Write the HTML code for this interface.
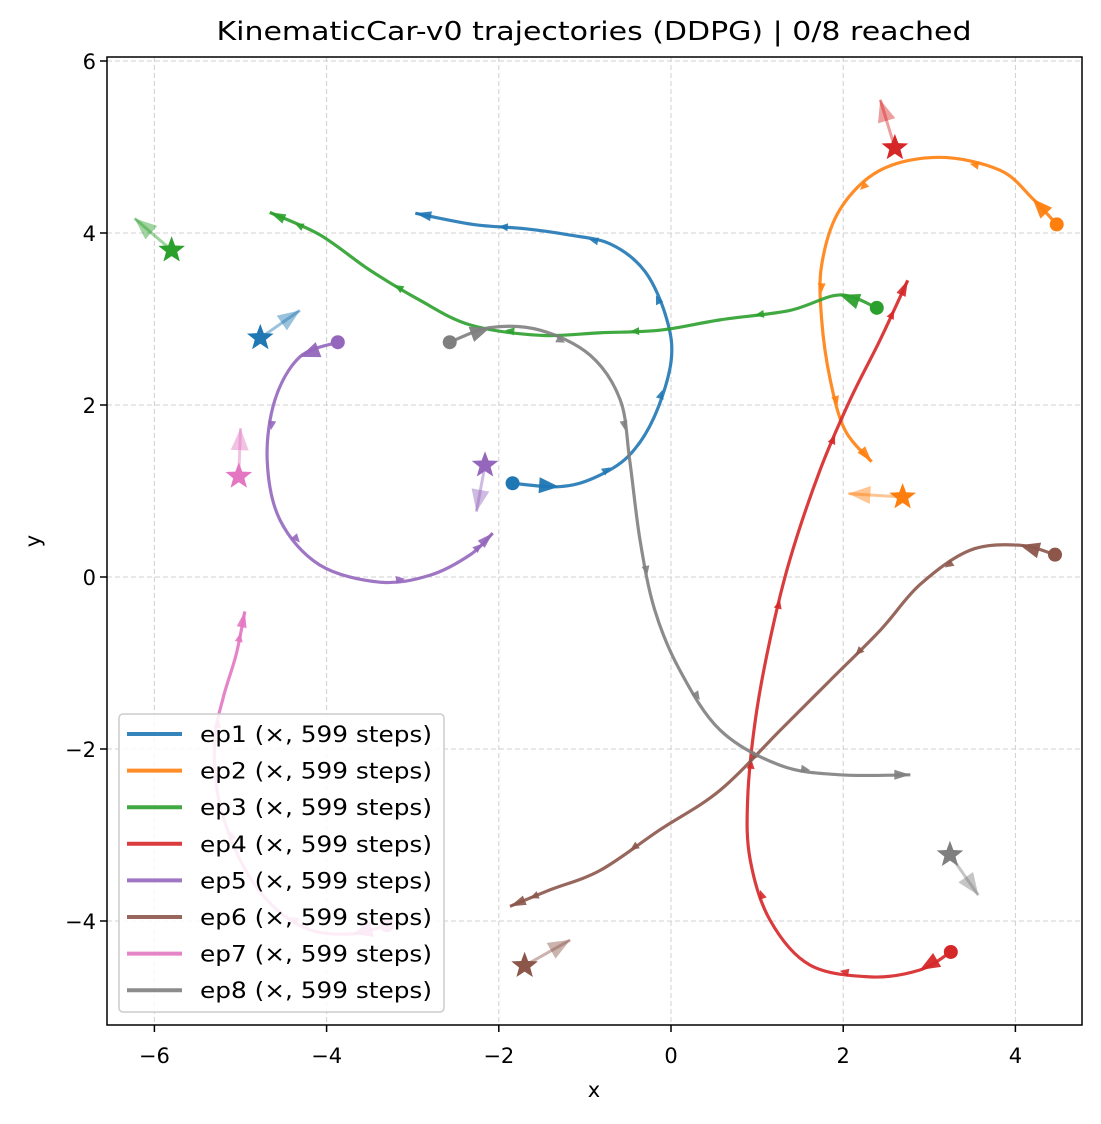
<!DOCTYPE html>
<html><head><meta charset="utf-8"><style>
body{margin:0;background:#fff;}
svg text{font-family:"DejaVu Sans","Liberation Sans",sans-serif;}
</style></head><body>
<svg id="chart" width="1101" height="1119" xmlns="http://www.w3.org/2000/svg">
<rect width="1101" height="1119" fill="#fff"/>
<text x="594" y="40" font-size="26" text-anchor="middle" textLength="755" lengthAdjust="spacingAndGlyphs">KinematicCar-v0 trajectories (DDPG) | 0/8 reached</text>
<g id="grid"></g><g id="series"></g><g id="axes"></g><g id="legend"></g>
<text x="594" y="1097" font-size="21" text-anchor="middle">x</text>
<text x="40" y="541" font-size="21" text-anchor="middle" transform="rotate(-90 40 541)">y</text>
</svg>
<script>
const xTicks=[-6,-4,-2,0,2,4];
const yTicks=[-4,-2,0,2,4,6];
const episodes=["ep1","ep2","ep3","ep4","ep5","ep6","ep7","ep8"];
const colors=["#1f77b4","#ff7f0e","#2ca02c","#d62728","#9467bd","#8c564b","#e377c2","#7f7f7f"];
const ep1=[[-1.84,1.09],[-1.3,1.05],[-0.9,1.15],[-0.5,1.4],[-0.2,1.85],[0,2.5],[-0.05,3.0],[-0.3,3.55],[-0.7,3.87],[-1.2,3.98],[-1.7,4.05],[-2.3,4.1],[-2.97,4.23]];
const ep2=[[4.48,4.1],[4.2,4.4],[3.82,4.73],[3.12,4.88],[2.43,4.73],[1.96,4.27],[1.75,3.63],[1.75,2.99],[1.85,2.29],[2.02,1.71],[2.33,1.34]];
const ep3=[[2.39,3.13],[1.96,3.28],[1.38,3.1],[0.57,2.99],[-0.13,2.87],[-0.82,2.84],[-1.52,2.81],[-2.33,2.93],[-2.92,3.22],[-3.5,3.57],[-4.08,3.98],[-4.66,4.24]];
const ep4=[[3.25,-4.36],[2.89,-4.57],[2.31,-4.65],[1.61,-4.51],[1.15,-3.99],[0.92,-3.29],[0.89,-2.59],[0.98,-1.66],[1.15,-0.73],[1.38,0.2],[1.73,1.24],[2.08,2.06],[2.43,2.76],[2.75,3.45]];
const ep5=[[-3.87,2.73],[-4.31,2.56],[-4.6,2.06],[-4.69,1.36],[-4.54,0.66],[-4.08,0.14],[-3.38,-0.06],[-2.8,0.02],[-2.33,0.26],[-2.07,0.51]];
const ep6=[[4.46,0.26],[4.05,0.37],[3.47,0.31],[2.89,-0.09],[2.43,-0.62],[1.85,-1.2],[1.27,-1.78],[0.57,-2.48],[-0.13,-2.94],[-0.82,-3.41],[-1.41,-3.64],[-1.87,-3.83]];
const ep7=[[-3.3,-4.05],[-3.7,-4.15],[-4.2,-4.1],[-4.65,-3.8],[-5.0,-3.3],[-5.25,-2.6],[-5.3,-1.9],[-5.2,-1.4],[-5.05,-0.9],[-4.95,-0.4]];
const ep8=[[-2.57,2.73],[-2.1,2.9],[-1.52,2.87],[-0.94,2.58],[-0.59,2.06],[-0.48,1.36],[-0.36,0.43],[-0.19,-0.38],[0.1,-1.08],[0.57,-1.78],[1.27,-2.19],[1.96,-2.3],[2.78,-2.3]];
const goals=[[-4.77,2.78],[2.69,0.93],[-5.8,3.8],[2.6,4.99],[-2.16,1.3],[-1.7,-4.52],[-5.02,1.17],[3.24,-3.23]];
const goalHead=[[-4.31,3.1],[2.06,0.97],[-6.23,4.17],[2.43,5.55],[-2.26,0.76],[-1.17,-4.22],[-5.0,1.73],[3.57,-3.7]];
const paths=[ep1,ep2,ep3,ep4,ep5,ep6,ep7,ep8];
const X0=107,X1=1082,Y0=57,Y1=1025;
const sx=v=>671+v*86.1, sy=v=>577-v*86;
const NS="http://www.w3.org/2000/svg";
function mk(t,a,p){const e=document.createElementNS(NS,t);for(const k in a)e.setAttribute(k,a[k]);p.appendChild(e);return e;}
const grid=document.getElementById('grid'),axes=document.getElementById('axes'),ser=document.getElementById('series'),leg=document.getElementById('legend');
xTicks.forEach(t=>{const x=sx(t);
 const g=mk('line',{x1:x,x2:x,y1:Y0,y2:Y1,stroke:'#d0d0d0','stroke-dasharray':'5,3'},grid);
 
 
 const tk=mk('line',{x1:x,x2:x,y1:Y1,y2:Y1+7,stroke:'#000','stroke-width':1.5},axes);
 
 
 const l=mk('text',{x:x,y:1063,'font-size':21,'text-anchor':'middle'},axes);l.textContent=(t<0?'\u2212'+(-t):t);
 
 });
yTicks.forEach(t=>{const y=sy(t);
 const g=mk('line',{x1:X0,x2:X1,y1:y,y2:y,stroke:'#d0d0d0','stroke-dasharray':'5,3'},grid);
 
 
 const tk=mk('line',{x1:X0-7,x2:X0,y1:y,y2:y,stroke:'#000','stroke-width':1.5},axes);
 
 
 const l=mk('text',{x:X0-11,y:y+8,'font-size':21,'text-anchor':'end'},axes);l.textContent=(t<0?'\u2212'+(-t):t);
 
 });
const fr=mk('rect',{x:X0,y:Y0,width:X1-X0,height:Y1-Y0,fill:'none',stroke:'#000','stroke-width':1.5},axes);


function head(px,py,dx,dy,len,w,col,op,parent){const n=Math.hypot(dx,dy)||1;const ux=dx/n,uy=dy/n;
 const bx=px-ux*len,by=py-uy*len;
 return mk('polygon',{points:`${px},${py} ${bx-uy*w},${by+ux*w} ${bx+uy*w},${by-ux*w}`,fill:col,'fill-opacity':op},parent);}
function star(cx,cy,r,col,parent){let p=[];for(let i=0;i<10;i++){const a=-Math.PI/2+i*Math.PI/5;const rr=i%2?r*0.42:r;p.push((cx+rr*Math.cos(a))+','+(cy+rr*Math.sin(a)));}
 return mk('polygon',{points:p.join(' '),fill:col},parent);}
paths.forEach((pts,i)=>{const c=colors[i];const g=mk('g',{},ser);
 
 
 const P=pts.map(p=>[sx(p[0]),sy(p[1])]);
 let d='M'+P[0][0]+','+P[0][1];
 for(let k=1;k<P.length;k++){const p0=P[k-1],p1=P[k];const pm=P[k-2]||p0,p2=P[k+1]||p1;
  const c1=[p0[0]+(p1[0]-pm[0])/6,p0[1]+(p1[1]-pm[1])/6],c2=[p1[0]-(p2[0]-p0[0])/6,p1[1]-(p2[1]-p0[1])/6];
  d+=` C${c1[0]},${c1[1]} ${c2[0]},${c2[1]} ${p1[0]},${p1[1]}`;}
 const ln=mk('path',{d:d,fill:'none',stroke:c,'stroke-width':3.2,'stroke-opacity':0.9},g);
 
 
 for(let k=2;k<P.length-1;k+=2){const a=P[k],b=P[k+1];
  const h=head((a[0]+b[0])/2,(a[1]+b[1])/2,b[0]-a[0],b[1]-a[1],9,4,c,0.9,g);
  
  }
 const bh=head(P[1][0],P[1][1],P[1][0]-P[0][0],P[1][1]-P[0][1],20,8,c,0.95,g);
 
 
 const eh=head(P[P.length-1][0],P[P.length-1][1],P[P.length-1][0]-P[P.length-2][0],P[P.length-1][1]-P[P.length-2][1],16,5,c,0.9,g);
 
 
 const s=mk('circle',{cx:P[0][0],cy:P[0][1],r:7,fill:c},g);
 
 
 const gx=sx(goals[i][0]),gy=sy(goals[i][1]),hx=sx(goalHead[i][0]),hy=sy(goalHead[i][1]);
 const gl=mk('line',{x1:gx,y1:gy,x2:hx,y2:hy,stroke:c,'stroke-width':3,'stroke-opacity':0.45},g);
 
 
 const gh=head(hx,hy,hx-gx,hy-gy,22,9,c,0.45,g);
 
 
 const st=star(gx,gy,14,c,g);
 
 
});
const lb=mk('rect',{x:119,y:714,width:325,height:298,rx:4,fill:'#fff','fill-opacity':0.85,stroke:'#ccc','stroke-width':1.5},leg);


episodes.forEach((e,i)=>{const y=734+i*36.6;
 const l=mk('line',{x1:127,x2:182,y1:y,y2:y,stroke:colors[i],'stroke-width':4,'stroke-opacity':0.9},leg);
 
 
 const t=mk('text',{x:200,y:y+8,'font-size':22,textLength:232,lengthAdjust:'spacingAndGlyphs'},leg);t.textContent=e+' (\u00d7, 599 steps)';
 
 });
</script>
</body></html>
